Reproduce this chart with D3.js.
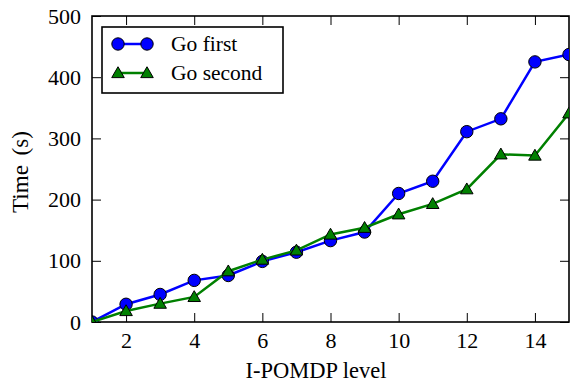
<!DOCTYPE html>
<html>
<head>
<meta charset="utf-8">
<script src="https://cdn.jsdelivr.net/npm/d3@7"></script>
<style>
body { margin: 0; background: #fff; }
svg text { font-family: "Liberation Serif", "DejaVu Serif", serif; }
</style>
</head>
<body>
<div id="container"></div>
<script>
// chart data
var levels = [1, 2, 3, 4, 5, 6, 7, 8, 9, 10, 11, 12, 13, 14, 15];
var goFirst = [0, 29, 45, 68, 76, 99, 114, 133, 147, 210, 230, 311, 332, 425, 437];
var goSecond = [0, 18, 30, 41, 83, 102, 117, 143, 154, 176, 193, 217, 274, 272, 341];
var xTicks = [2, 4, 6, 8, 10, 12, 14];
var yTicks = [0, 100, 200, 300, 400, 500];
var seriesNames = ["Go first", "Go second"];

var W = 570, H = 386;
var margin = {top: 16, right: 1, bottom: 64, left: 92};
var width = W - margin.left - margin.right,
	height = H - margin.top - margin.bottom;
var serif = "'Liberation Serif', serif";

var svg = d3.select("#container").append("svg")
	.attr("width", W)
	.attr("height", H);

var g = svg.append("g")
	.attr("transform", "translate(" + margin.left + "," + margin.top + ")");

var x = d3.scaleLinear().domain([1, 15]).range([0, width]);
var y = d3.scaleLinear().domain([0, 500]).range([height, 0]);

svg.append("defs").append("clipPath")
	.attr("id", "plotclip")
	.append("rect")
	.attr("width", width)
	.attr("height", height);

// ticks on all four sides, pointing inward
var tickLen = 9;
g.append("g")
	.attr("class", "x axis")
	.attr("transform", "translate(0," + height + ")")
	.call(d3.axisBottom(x).tickValues(xTicks).tickSizeInner(-tickLen).tickSizeOuter(0).tickPadding(10));
g.append("g")
	.attr("class", "x2 axis")
	.call(d3.axisTop(x).tickValues(xTicks).tickSizeInner(-tickLen).tickSizeOuter(0).tickFormat(""));
g.append("g")
	.attr("class", "y axis")
	.call(d3.axisLeft(y).tickValues(yTicks).tickSizeInner(-tickLen).tickSizeOuter(0).tickPadding(11));
g.append("g")
	.attr("class", "y2 axis")
	.attr("transform", "translate(" + width + ",0)")
	.call(d3.axisRight(y).tickValues(yTicks).tickSizeInner(-tickLen).tickSizeOuter(0).tickFormat(""));

g.selectAll(".axis")
	.attr("font-family", serif)
	.attr("font-size", 22);
g.selectAll(".axis .domain").remove();
g.selectAll(".axis line").attr("stroke", "#000").attr("stroke-width", 1);
g.selectAll(".axis text")
	.attr("fill", "#000");

// frame
g.append("rect")
	.attr("width", width)
	.attr("height", height)
	.attr("fill", "none")
	.attr("stroke", "#000")
	.attr("stroke-width", 1.6);

// axis labels
svg.append("text")
	.attr("x", 316)
	.attr("y", 378)
	.attr("text-anchor", "middle")
	.attr("font-family", serif)
	.attr("font-size", 22.5)
	.text("I-POMDP level");
svg.append("text")
	.attr("transform", "translate(28,172) rotate(-90)")
	.attr("text-anchor", "middle")
	.attr("font-family", serif)
	.attr("font-size", 23)
	.attr("word-spacing", 4)
	.text("Time (s)");

var series = [
	{name: seriesNames[0], values: goFirst, color: "#0000ff", marker: "circle"},
	{name: seriesNames[1], values: goSecond, color: "#008000", marker: "triangle"}
];

var line = d3.line()
	.x(function(d) { return x(d[0]); })
	.y(function(d) { return y(d[1]); });

var tri = d3.symbol().type(d3.symbolTriangle).size(68);

function drawMarker(sel, s) {
	if (s.marker == "circle") {
		sel.append("circle")
			.attr("r", 6.2)
			.attr("fill", s.color)
			.attr("stroke", "#000")
			.attr("stroke-width", 1);
	} else {
		sel.append("path")
			.attr("d", tri())
			.attr("transform", "translate(0,1)")
			.attr("fill", s.color)
			.attr("stroke", "#000")
			.attr("stroke-width", 1);
	}
}

var plot = g.append("g").attr("clip-path", "url(#plotclip)");

series.forEach(function(s) {
	var pts = levels.map(function(l, i) { return [l, s.values[i]]; });
	plot.append("path")
		.datum(pts)
		.attr("d", line)
		.attr("fill", "none")
		.attr("stroke", s.color)
		.attr("stroke-width", 2.5);
	plot.selectAll(".m-" + s.marker).data(pts).enter()
		.append("g")
		.attr("class", "m-" + s.marker)
		.attr("transform", function(d) { return "translate(" + x(d[0]) + "," + y(d[1]) + ")"; })
		.each(function() { drawMarker(d3.select(this), s); });
});

// legend
var lg = g.append("g").attr("transform", "translate(10,11)");
lg.append("rect")
	.attr("width", 181)
	.attr("height", 66)
	.attr("fill", "#fff")
	.attr("stroke", "#000")
	.attr("stroke-width", 1.6);
series.forEach(function(s, i) {
	var row = lg.append("g").attr("transform", "translate(0," + (17 + i * 29) + ")");
	row.append("line")
		.attr("x1", 16).attr("x2", 45)
		.attr("stroke", s.color)
		.attr("stroke-width", 2.5);
	[16, 45].forEach(function(px) {
		drawMarker(row.append("g").attr("transform", "translate(" + px + ",0)"), s);
	});
	row.append("text")
		.attr("x", 69)
		.attr("y", 7)
		.attr("font-family", serif)
		.attr("font-size", 21.5)
		.text(s.name);
});
</script>
</body>
</html>
